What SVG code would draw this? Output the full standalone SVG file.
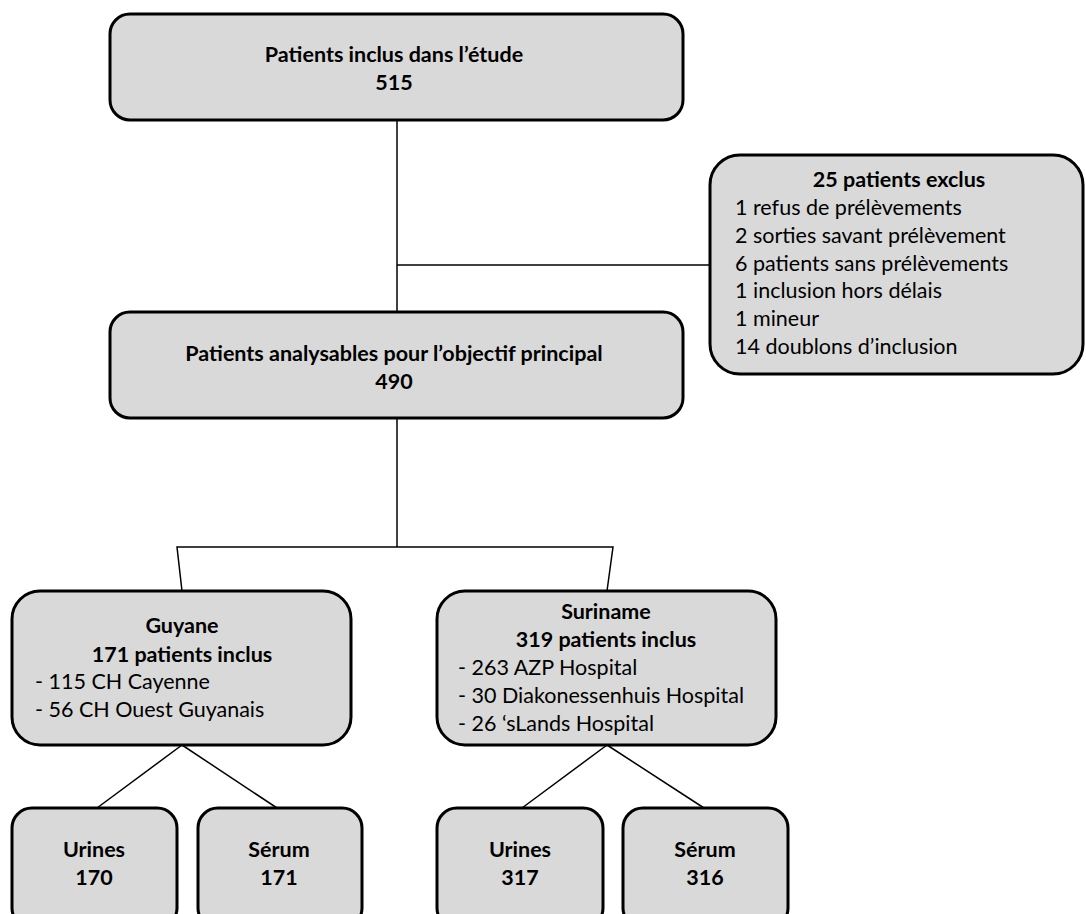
<svg xmlns="http://www.w3.org/2000/svg" width="1086" height="914" viewBox="0 0 1086 914">
<style>
.box{fill:#d9d9d9;stroke:#000;stroke-width:3}
.t{font-family:Lato,"Liberation Sans",Arial,sans-serif;font-size:21.5px;fill:#000}
.b{font-weight:bold}
.c{text-anchor:middle}
.ln{stroke:#000;stroke-width:1.5;fill:none}
</style>
<rect width="1086" height="914" fill="#fff"/>
<g id="connectors">
<line class="ln" x1="397" y1="120" x2="397" y2="312"/>
<line class="ln" x1="397" y1="265" x2="710" y2="265"/>
<line class="ln" x1="397" y1="418" x2="397" y2="547"/>
<polyline class="ln" points="182,591 177,547 613,547 607,591"/>
<line class="ln" x1="182" y1="745" x2="97" y2="808"/>
<line class="ln" x1="182" y1="745" x2="277" y2="808"/>
<line class="ln" x1="607" y1="745" x2="522" y2="808"/>
<line class="ln" x1="607" y1="745" x2="704" y2="808"/>
</g>
<g id="n-inclus">
<rect class="box" x="110" y="14" width="573" height="106" rx="20"/>
<text class="t b c" x="394" y="62">Patients inclus dans l’étude</text>
<text class="t b c" x="394" y="90">515</text>
</g>
<g id="n-exclus">
<rect class="box" x="710" y="155" width="373" height="219" rx="30"/>
<text class="t b c" x="899" y="187">25 patients exclus</text>
<text class="t" x="735" y="215">1 refus de prélèvements</text>
<text class="t" x="735" y="242.8">2 sorties savant prélèvement</text>
<text class="t" x="735" y="270.6">6 patients sans prélèvements</text>
<text class="t" x="735" y="298.4">1 inclusion hors délais</text>
<text class="t" x="735" y="326.2">1 mineur</text>
<text class="t" x="735" y="354">14 doublons d’inclusion</text>
</g>
<g id="n-analysables">
<rect class="box" x="110" y="312" width="573" height="106" rx="20"/>
<text class="t b c" x="394" y="361">Patients analysables pour l’objectif principal</text>
<text class="t b c" x="394" y="389">490</text>
</g>
<g id="n-guyane">
<rect class="box" x="12" y="591" width="339" height="154" rx="28"/>
<text class="t b c" x="182" y="633">Guyane</text>
<text class="t b c" x="182" y="662">171 patients inclus</text>
<text class="t" x="35" y="689">- 115 CH Cayenne</text>
<text class="t" x="35" y="717">- 56 CH Ouest Guyanais</text>
</g>
<g id="n-suriname">
<rect class="box" x="437" y="591" width="339" height="154" rx="28"/>
<text class="t b c" x="606" y="619">Suriname</text>
<text class="t b c" x="606" y="647">319 patients inclus</text>
<text class="t" x="458" y="675">- 263 AZP Hospital</text>
<text class="t" x="458" y="703">- 30 Diakonessenhuis Hospital</text>
<text class="t" x="458" y="731">- 26 ‘sLands Hospital</text>
</g>
<g id="n-urines-g">
<rect class="box" x="12" y="808" width="165" height="120" rx="20"/>
<text class="t b c" x="94" y="857">Urines</text>
<text class="t b c" x="94" y="885">170</text>
</g>
<g id="n-serum-g">
<rect class="box" x="198" y="808" width="164" height="120" rx="20"/>
<text class="t b c" x="279" y="857">Sérum</text>
<text class="t b c" x="279" y="885">171</text>
</g>
<g id="n-urines-s">
<rect class="box" x="437" y="808" width="166" height="120" rx="20"/>
<text class="t b c" x="520" y="857">Urines</text>
<text class="t b c" x="520" y="885">317</text>
</g>
<g id="n-serum-s">
<rect class="box" x="623" y="808" width="165" height="120" rx="20"/>
<text class="t b c" x="705" y="857">Sérum</text>
<text class="t b c" x="705" y="885">316</text>
</g>
</svg>
